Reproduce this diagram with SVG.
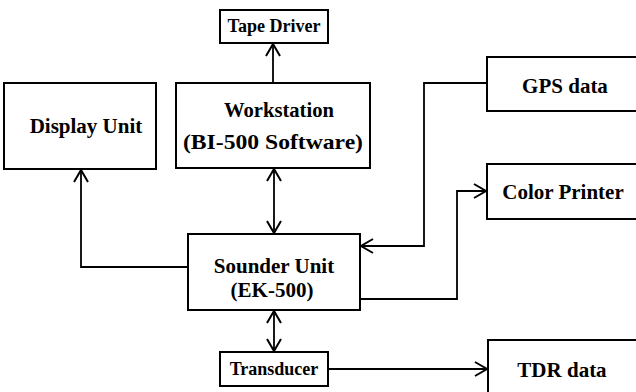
<svg xmlns="http://www.w3.org/2000/svg" width="636" height="392" viewBox="0 0 636 392">
<defs>
<marker id="arr" markerUnits="userSpaceOnUse" markerWidth="16" markerHeight="18" refX="13" refY="8" orient="auto-start-reverse" viewBox="0 0 16 16">
<path d="M1,1 L13,8 L1,15" fill="none" stroke="#000" stroke-width="2"/>
</marker>
<style>
.box{fill:#fff;stroke:#000;stroke-width:2}
.t{font-family:"Liberation Serif","Times New Roman",serif;font-weight:bold;font-size:21px;fill:#000;text-anchor:middle}
.s{font-size:18px}
.c{fill:none;stroke:#000;stroke-width:1.8}
</style>
</defs>
<rect width="636" height="392" fill="#fff"/>
<g id="connectors">
<polyline class="c" points="188,267 81,267 81,170" marker-end="url(#arr)"/>
<line class="c" x1="274" y1="169" x2="274" y2="233" marker-start="url(#arr)" marker-end="url(#arr)"/>
<line class="c" x1="273" y1="83" x2="273" y2="44" marker-end="url(#arr)"/>
<polyline class="c" points="487,83 424,83 424,246 361,246" marker-end="url(#arr)"/>
<polyline class="c" points="360,299 457,299 457,191 486,191" marker-end="url(#arr)"/>
<line class="c" x1="274" y1="311" x2="274" y2="351" marker-start="url(#arr)" marker-end="url(#arr)"/>
<line class="c" x1="328" y1="369" x2="487" y2="369" marker-end="url(#arr)"/>
</g>
<g id="tape-driver"><rect class="box" x="220" y="10" width="108" height="33"/><text class="t s" x="274" y="32">Tape Driver</text></g>
<g id="display-unit"><rect class="box" x="4" y="83" width="152" height="86"/><text class="t" x="86" y="133">Display Unit</text></g>
<g id="workstation"><rect class="box" x="176" y="83" width="194" height="85"/><text class="t" x="279" y="117" textLength="110" lengthAdjust="spacingAndGlyphs">Workstation</text><text class="t" x="273" y="149" textLength="180" lengthAdjust="spacingAndGlyphs">(BI-500 Software)</text></g>
<g id="gps-data"><rect class="box" x="487" y="57" width="160" height="54"/><text class="t" x="565" y="93">GPS data</text></g>
<g id="color-printer"><rect class="box" x="487" y="164" width="160" height="55"/><text class="t" x="563" y="199">Color Printer</text></g>
<g id="sounder-unit"><rect class="box" x="188" y="234" width="172" height="76"/><text class="t" x="274" y="273">Sounder Unit</text><text class="t" x="272" y="297">(EK-500)</text></g>
<g id="transducer"><rect class="box" x="220" y="352" width="108" height="34"/><text class="t s" x="274" y="375">Transducer</text></g>
<g id="tdr-data"><rect class="box" x="488" y="340" width="160" height="70"/><text class="t" x="562" y="377">TDR data</text></g>
</svg>
